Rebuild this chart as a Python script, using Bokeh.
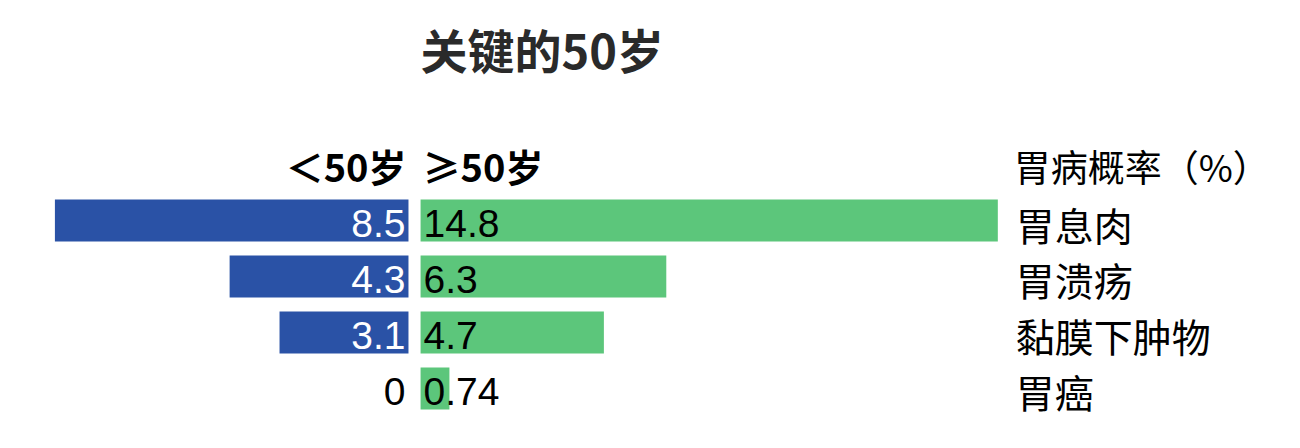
from bokeh.plotting import figure
from bokeh.models import Range1d, ColumnDataSource, Label
from bokeh.core.properties import value
from bokeh.embed import file_html
from bokeh.resources import INLINE

# ---- data ----
title_text = "关键的50岁"
group_under = "＜50岁"
group_over = "≥50岁"
measure_label = "胃病概率（%）"
categories = ["胃息肉", "胃溃疡", "黏膜下肿物", "胃癌"]
under50 = [8.5, 4.3, 3.1, 0]
over50 = [14.8, 6.3, 4.7, 0.74]
under50_text = ["8.5", "4.3", "3.1", "0"]
over50_text = ["14.8", "6.3", "4.7", "0.74"]

BLUE = "#2a52a6"
GREEN = "#5cc67b"
CJK = "Noto Sans CJK SC"
NUM = "Liberation Sans"

rows = list(range(len(categories)))
src = ColumnDataSource(dict(
    y=rows, cat=categories, u=under50, o=over50,
    ut=under50_text, ot=over50_text,
    ucol=["white" if v > 0 else "black" for v in under50],
))

p = figure(width=1284, height=432, output_backend="svg", toolbar_location=None,
           x_range=Range1d(-10.77, 22.15), y_range=Range1d(3.786, -3.929),
           min_border=0, x_axis_location=None, y_axis_location=None,
           outline_line_color=None, background_fill_color="white",
           border_fill_color="white")
p.grid.visible = False
p.extra_x_ranges = {"under": Range1d(9.808, -21.06)}

# bars
p.hbar(y="y", left=0, right="u", height=0.75, source=src, x_range_name="under",
       fill_color=BLUE, line_color=None)
p.hbar(y="y", left=0, right="o", height=0.75, source=src,
       fill_color=GREEN, line_color=None)

# value labels
p.text(x=0, y="y", text="ut", source=src, x_range_name="under",
       text_align="right", text_baseline="middle", x_offset=-3, y_offset=3,
       text_color="ucol", text_font=value(NUM), text_font_size="39px")
p.text(x=0, y="y", text="ot", source=src,
       text_align="left", text_baseline="middle", x_offset=3, y_offset=3,
       text_color="black", text_font=value(NUM), text_font_size="39px")

# category labels
cat_x = 15.26
p.text(x=cat_x, y="y", text="cat", source=src, text_align="left",
       text_baseline="middle", text_color="black", text_font=value(CJK),
       text_font_size="39px", y_offset=3)

hdr_y = -0.98
p.add_layout(Label(x=0, y=hdr_y, text=group_under, x_range_name="under",
                   text_align="right", text_baseline="middle", x_offset=-2,
                   text_font=CJK, text_font_size="38px", text_font_style="bold",
                   text_color="black"))
p.add_layout(Label(x=0, y=hdr_y, text=group_over, text_align="left",
                   text_baseline="middle", x_offset=2,
                   text_font=CJK, text_font_size="38px", text_font_style="bold",
                   text_color="black"))
p.add_layout(Label(x=cat_x, y=hdr_y, text=measure_label, text_align="left",
                   text_baseline="middle", text_font=CJK, text_font_size="37px",
                   x_offset=-2, text_color="black"))
p.add_layout(Label(x=0, y=-3.08, text=title_text, text_align="left",
                   text_baseline="middle", text_font=CJK, text_font_size="47px",
                   text_font_style="bold", text_color="#2a2a2a"))

open("out.html", "w").write(file_html(p, INLINE))
